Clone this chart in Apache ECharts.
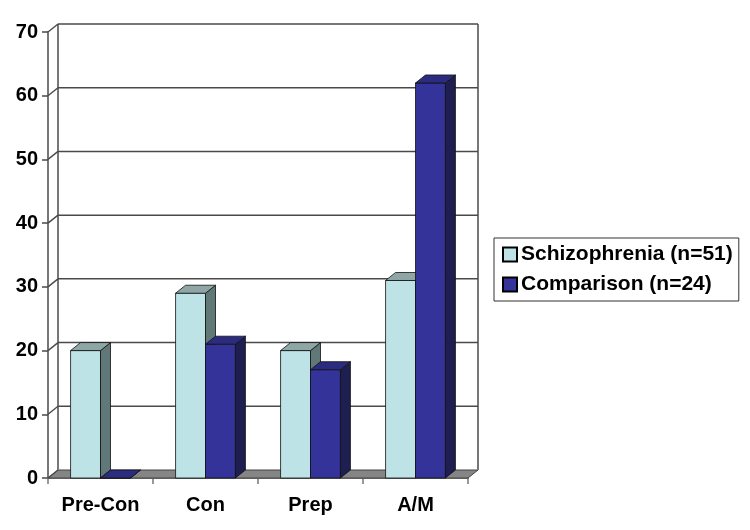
<!DOCTYPE html>
<html>
<head>
<meta charset="utf-8">
<script src="https://cdn.jsdelivr.net/npm/echarts@6/dist/echarts.min.js"></script>
<style>
  html, body { margin: 0; padding: 0; background: #fff; }
  #chart { width: 750px; height: 530px; }
</style>
</head>
<body>
<div id="chart"></div>
<script>
// data
var categories = ['Pre-Con', 'Con', 'Prep', 'A/M']
var schizophrenia = [20, 29, 20, 31]
var comparison = [0, 21, 17, 62]
var yTicks = [0, 10, 20, 30, 40, 50, 60, 70]

// 3d look
var DX = 10
var DY = 8
var BAR_FRAC = 0.285
var FONT = 'Liberation Sans, Arial, sans-serif'

function barItem(side, front, right, topc) {
  return function (params, api) {
    var cat = api.value(0)
    var val = api.value(1)
    var base = api.coord([cat, 0])
    var top = api.coord([cat, val])
    var w = api.size([1, 0])[0] * BAR_FRAC
    var x0 = side < 0 ? base[0] - w : base[0]
    var x1 = x0 + w
    var yb = base[1]
    var yt = top[1]
    var edge = { stroke: '#111', lineWidth: 0.8 }
    return {
      type: 'group',
      children: [
        { type: 'polygon', shape: { points: [[x0, yt], [x1, yt], [x1, yb], [x0, yb]] },
          style: Object.assign({ fill: front }, edge) },
        { type: 'polygon', shape: { points: [[x1, yt], [x1 + DX, yt - DY], [x1 + DX, yb - DY], [x1, yb]] },
          style: Object.assign({ fill: right }, edge) },
        { type: 'polygon', shape: { points: [[x0, yt], [x0 + DX, yt - DY], [x1 + DX, yt - DY], [x1, yt]] },
          style: Object.assign({ fill: topc }, edge) }
      ]
    }
  }
}

function frameItem(params, api) {
  var cs = params.coordSys
  var x0 = cs.x
  var x1 = cs.x + cs.width
  var y = api.coord([0, api.value(0)])[1]
  var line = { stroke: '#4a4a4a', lineWidth: 1.5 }
  var kids = []
  if (params.dataIndex === 0) {
    var yb = cs.y + cs.height
    var ytop = cs.y
    kids.push({ type: 'polygon', shape: { points: [[x0, yb], [x1, yb], [x1 + DX, yb - DY], [x0 + DX, yb - DY]] },
      style: { fill: '#858585', stroke: '#444', lineWidth: 1 } })
    kids.push({ type: 'line', shape: { x1: x0 + DX, y1: ytop - DY, x2: x0 + DX, y2: yb - DY }, style: { stroke: '#777', lineWidth: 2 } })
    kids.push({ type: 'line', shape: { x1: x1 + DX, y1: ytop - DY, x2: x1 + DX, y2: yb - DY }, style: { stroke: '#777', lineWidth: 2 } })
  } else {
    kids.push({ type: 'line', shape: { x1: x0 + DX, y1: y - DY, x2: x1 + DX, y2: y - DY }, style: line })
  }
  kids.push({ type: 'line', shape: { x1: x0, y1: y, x2: x0 + DX, y2: y - DY }, style: line })
  return { type: 'group', children: kids }
}

var chart = echarts.init(document.getElementById('chart'))
chart.setOption({
  animation: false,
  backgroundColor: '#fff',
  grid: { left: 48, right: 282, top: 32, bottom: 52 },
  legend: {
    data: ['Schizophrenia (n=51)', 'Comparison (n=24)'],
    orient: 'vertical',
    left: 494,
    top: 238,
    padding: [6, 6, 6, 8],
    itemGap: 9,
    itemWidth: 14,
    itemHeight: 14,
    icon: 'rect',
    borderColor: '#333',
    borderWidth: 1,
    textStyle: { fontFamily: FONT, fontWeight: 'bold', fontSize: 21, color: '#000', padding: [0, 0, 0, -1] }
  },
  xAxis: {
    type: 'category',
    data: categories,
    axisLine: { lineStyle: { color: '#777', width: 2 } },
    axisTick: { show: true, length: 6, lineStyle: { color: '#777', width: 1.5 } },
    axisLabel: { margin: 17, fontFamily: FONT, fontWeight: 'bold', fontSize: 20, color: '#000' }
  },
  yAxis: {
    type: 'value',
    min: 0,
    max: 70,
    interval: 10,
    splitLine: { show: false },
    axisLine: { show: true, lineStyle: { color: '#777', width: 2 } },
    axisTick: { show: true, length: 6, lineStyle: { color: '#4a4a4a', width: 1.5 } },
    axisLabel: { margin: 10, fontFamily: FONT, fontWeight: 'bold', fontSize: 20, color: '#000' }
  },
  series: [
    {
      name: 'frame',
      type: 'custom',
      renderItem: frameItem,
      data: yTicks.map(function (v) { return [v] }),
      encode: { y: 0 },
      silent: true,
      z: 1
    },
    {
      name: 'Schizophrenia (n=51)',
      type: 'custom',
      renderItem: barItem(-1, '#bde3e6', '#607878', '#8fa6a6'),
      itemStyle: { color: '#bde3e6', borderColor: '#000', borderWidth: 1 },
      data: schizophrenia.map(function (v, i) { return [i, v] }),
      encode: { x: 0, y: 1 },
      z: 3
    },
    {
      name: 'Comparison (n=24)',
      type: 'custom',
      renderItem: barItem(1, '#333399', '#1e1e50', '#2b2b7f'),
      itemStyle: { color: '#333399', borderColor: '#000', borderWidth: 1 },
      data: comparison.map(function (v, i) { return [i, v] }),
      encode: { x: 0, y: 1 },
      z: 4
    }
  ]
})
</script>
</body>
</html>
